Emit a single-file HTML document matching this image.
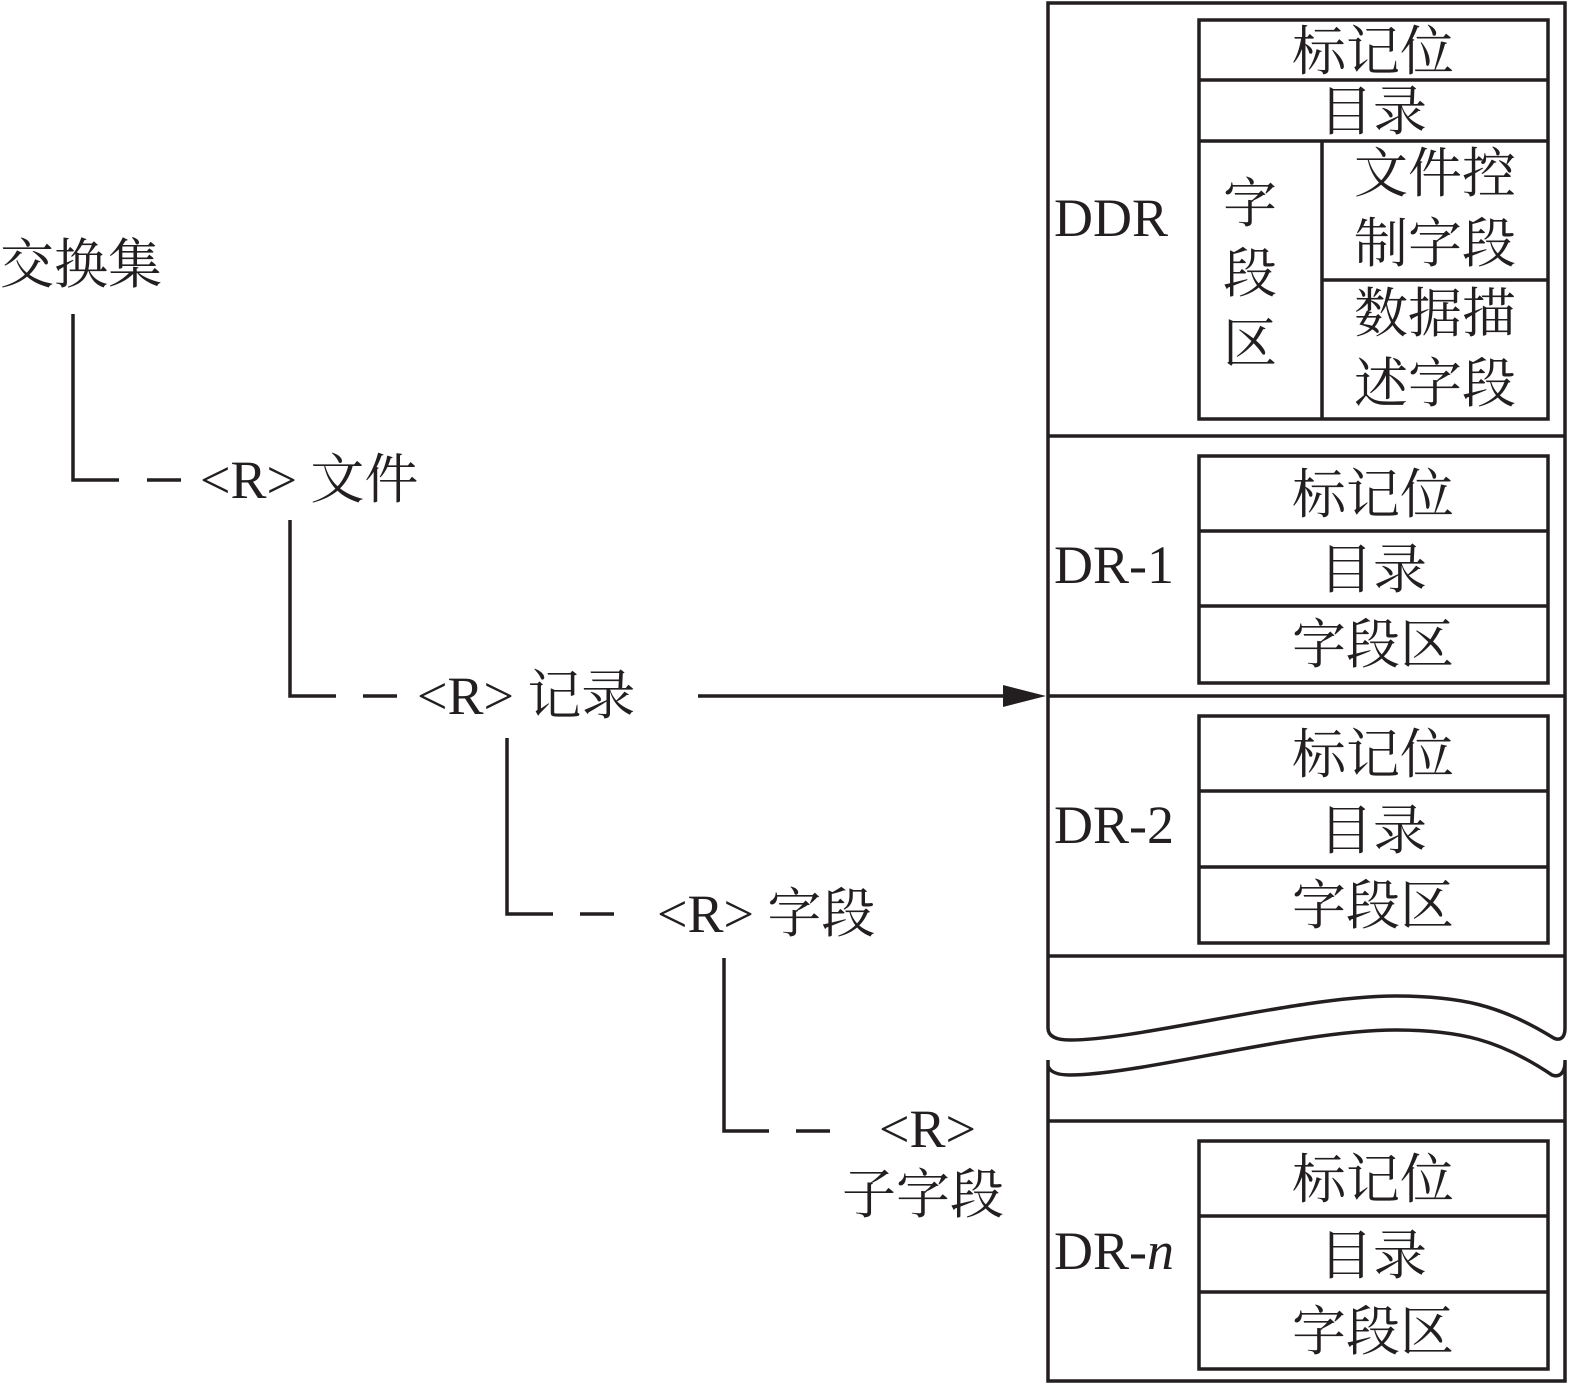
<!DOCTYPE html>
<html><head><meta charset="utf-8"><style>
html,body{margin:0;padding:0;background:#fff}
svg{display:block}
text{font-family:"Liberation Serif","Noto Serif CJK SC",serif;fill:#231f20}
</style></head><body>
<svg width="1577" height="1391" viewBox="0 0 1577 1391" xmlns="http://www.w3.org/2000/svg">
<g stroke="#231f20" stroke-width="3.5" fill="none">
<!-- tree lines -->
<polyline points="73,314 73,480 119,480"/><line x1="147" y1="480" x2="181" y2="480"/>
<polyline points="290,520 290,696 336,696"/><line x1="363" y1="696" x2="397" y2="696"/>
<polyline points="507,738 507,914 553,914"/><line x1="580" y1="914" x2="614" y2="914"/>
<polyline points="724,958 724,1131 769,1131"/><line x1="796" y1="1131" x2="830" y2="1131"/>
<line x1="698" y1="696" x2="1005" y2="696"/>
<!-- outer upper -->
<path d="M1048,1028 L1048,3 L1565,3 L1565,1028 C1565,1040 1558,1041 1552,1037 C1500,1005 1460,996 1395,996 C1300,996 1140,1040 1070,1040 C1055,1040 1048,1036 1048,1028"/>
<!-- outer lower -->
<path d="M1048,1060 L1048,1381 L1565,1381 L1565,1060 M1048,1066 C1050,1072 1058,1075 1070,1075 C1140,1075 1300,1030 1395,1030 C1460,1030 1500,1040 1552,1075 C1560,1078 1565,1072 1565,1062"/>
<line x1="1048" y1="436" x2="1565" y2="436"/>
<line x1="1048" y1="956" x2="1565" y2="956"/>
<line x1="1048" y1="1121" x2="1565" y2="1121"/>
<!-- DDR inner -->
<rect x="1199" y="20" width="349" height="399"/>
<line x1="1199" y1="80" x2="1548" y2="80"/>
<line x1="1199" y1="141" x2="1548" y2="141"/>
<line x1="1322" y1="141" x2="1322" y2="419"/>
<line x1="1322" y1="280" x2="1548" y2="280"/>
<!-- DR-1 -->
<rect x="1199" y="456" width="349" height="227"/>
<line x1="1199" y1="531" x2="1548" y2="531"/><line x1="1199" y1="606" x2="1548" y2="606"/>
<!-- DR-2 -->
<rect x="1199" y="716" width="349" height="227"/>
<line x1="1199" y1="791" x2="1548" y2="791"/><line x1="1199" y1="867" x2="1548" y2="867"/>
<!-- DR-n -->
<rect x="1199" y="1141" width="349" height="228"/>
<line x1="1199" y1="1216" x2="1548" y2="1216"/><line x1="1199" y1="1292" x2="1548" y2="1292"/>
</g>
<line x1="1048" y1="696" x2="1565" y2="696" stroke="#231f20" stroke-width="3.5"/>
<polygon points="1003,685 1046,696 1003,707" fill="#231f20"/>
<g font-size="54">
<text x="0" y="283">交换集</text>
<text x="200" y="498">&lt;R&gt; 文件</text>
<text x="417" y="714">&lt;R&gt; 记录</text>
<text x="657" y="932">&lt;R&gt; 字段</text>
<text x="879" y="1147">&lt;R&gt;</text>
<text x="842" y="1213">子字段</text>
<text x="1054" y="236">DDR</text>
<text x="1054" y="583">DR-1</text>
<text x="1054" y="843">DR-2</text>
<text x="1054" y="1269">DR-<tspan font-style="italic">n</tspan></text>
<g text-anchor="middle">
<text x="1373" y="70">标记位</text>
<text x="1373" y="130">目录</text>
<text x="1250" y="222">字</text>
<text x="1250" y="292">段</text>
<text x="1250" y="362">区</text>
<text x="1435" y="192">文件控</text>
<text x="1435" y="262">制字段</text>
<text x="1435" y="332">数据描</text>
<text x="1435" y="402">述字段</text>
<text x="1373" y="513">标记位</text>
<text x="1373" y="588">目录</text>
<text x="1373" y="663">字段区</text>
<text x="1373" y="773">标记位</text>
<text x="1373" y="849">目录</text>
<text x="1373" y="924">字段区</text>
<text x="1373" y="1198">标记位</text>
<text x="1373" y="1274">目录</text>
<text x="1373" y="1350">字段区</text>
</g>
</g>
</svg>
</body></html>
